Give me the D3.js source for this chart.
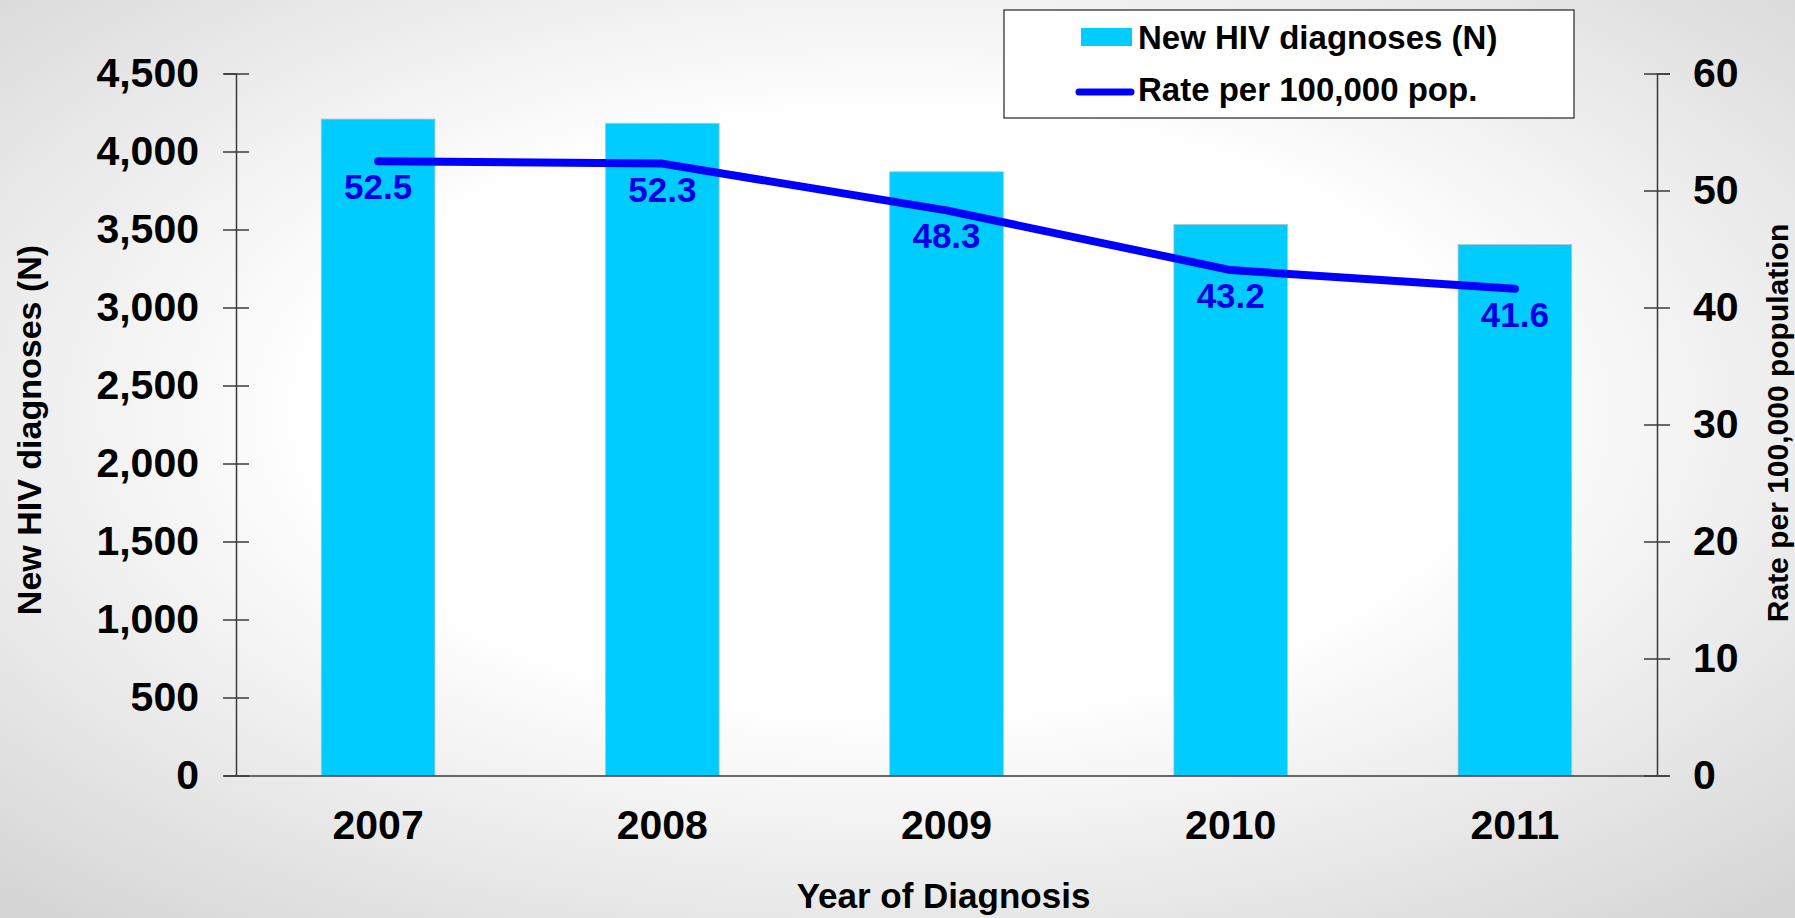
<!DOCTYPE html>
<html>
<head>
<meta charset="utf-8">
<script src="https://cdn.jsdelivr.net/npm/d3@7"></script>
<style>
  html, body { margin: 0; padding: 0; background: #ffffff; }
  svg { display: block; }
  text { font-family: "Liberation Sans", Arial, sans-serif; font-weight: bold; }
</style>
</head>
<body>
<script>
// ---- data ----
const years = ["2007", "2008", "2009", "2010", "2011"];
const diagnoses = [4208, 4181, 3870, 3533, 3404];
const rates = [52.5, 52.3, 48.3, 43.2, 41.6];
const leftTicks = [0, 500, 1000, 1500, 2000, 2500, 3000, 3500, 4000, 4500];
const rightTicks = [0, 10, 20, 30, 40, 50, 60];
const seriesNames = ["New HIV diagnoses (N)", "Rate per 100,000 pop."];
const xTitle = "Year of Diagnosis";
const yLeftTitle = "New HIV diagnoses (N)";
const yRightTitle = "Rate per 100,000 population";

const W = 1795, H = 918;
const plotLeft = 236, plotRight = 1657, plotTop = 73.5, plotBottom = 775.5;

const svg = d3.select("body").append("svg").attr("width", W).attr("height", H);

// background gradient
const defs = svg.append("defs");
const grad = defs.append("radialGradient").attr("id", "bg")
  .attr("cx", "50%").attr("cy", "45%").attr("r", "72%");
grad.append("stop").attr("offset", "0").attr("stop-color", "#ffffff");
grad.append("stop").attr("offset", "0.45").attr("stop-color", "#ffffff");
grad.append("stop").attr("offset", "1").attr("stop-color", "#d6d6d6");
svg.append("rect").attr("width", W).attr("height", H).attr("fill", "url(#bg)");

const x = d3.scaleBand().domain(years).range([plotLeft, plotRight])
  .paddingInner(0.6).paddingOuter(0.3);
const yL = d3.scaleLinear().domain([0, 4500]).range([plotBottom, plotTop]);
const yR = d3.scaleLinear().domain([0, 60]).range([plotBottom, plotTop]);

// bars
svg.append("g").selectAll("rect").data(years).join("rect")
  .attr("x", d => x(d))
  .attr("y", (d, i) => yL(diagnoses[i]))
  .attr("width", x.bandwidth())
  .attr("height", (d, i) => yL(0) - yL(diagnoses[i]))
  .attr("fill", "#00CCFF")
  .attr("stroke", "#b8c4c8").attr("stroke-width", 0.8);

// left axis
const axL = svg.append("g").attr("transform", `translate(${plotLeft},0)`)
  .call(d3.axisLeft(yL).tickValues(leftTicks).tickFormat(d3.format(",")).tickSize(12).tickPadding(25));
axL.selectAll(".tick line").attr("x1", 13).attr("x2", -13);
// right axis
const axR = svg.append("g").attr("transform", `translate(${plotRight},0)`)
  .call(d3.axisRight(yR).tickValues(rightTicks).tickSize(13).tickPadding(23));
axR.selectAll(".tick line").attr("x1", -13).attr("x2", 13);
// bottom axis
const axB = svg.append("g").attr("transform", `translate(0,${plotBottom})`)
  .call(d3.axisBottom(x).tickSize(0).tickPadding(34));

[axL, axR, axB].forEach(a => {
  a.select(".domain").attr("stroke", "#3a3a3a").attr("stroke-width", 1.5);
  a.selectAll(".tick line").attr("stroke", "#3a3a3a").attr("stroke-width", 1.5);
  a.selectAll(".tick text").attr("font-size", 41).attr("fill", "#000")
    .attr("font-family", "Liberation Sans, Arial, sans-serif").attr("font-weight", "bold");
});
axB.selectAll(".tick text").attr("dy", "0.71em");

// line
const line = d3.line().x((d, i) => x(years[i]) + x.bandwidth() / 2).y(d => yR(d));
svg.append("path").datum(rates).attr("d", line)
  .attr("fill", "none").attr("stroke", "#0000FF").attr("stroke-width", 8)
  .attr("stroke-linecap", "round").attr("stroke-linejoin", "round");

// data labels
svg.append("g").selectAll("text").data(rates).join("text")
  .attr("x", (d, i) => x(years[i]) + x.bandwidth() / 2)
  .attr("y", d => yR(d) + 38)
  .attr("text-anchor", "middle")
  .attr("font-size", 35).attr("fill", "#0000E6")
  .text(d => d.toFixed(1));

// axis titles
svg.append("text").attr("x", (plotLeft + plotRight) / 2 - 3).attr("y", 908)
  .attr("text-anchor", "middle").attr("font-size", 35).attr("fill", "#000").text(xTitle);
svg.append("text").attr("transform", "translate(41,430) rotate(-90)")
  .attr("text-anchor", "middle").attr("font-size", 34).attr("fill", "#000").text(yLeftTitle);
svg.append("text").attr("transform", "translate(1788,423) rotate(-90)")
  .attr("text-anchor", "middle").attr("font-size", 30).attr("fill", "#000").text(yRightTitle);

// legend
const lg = svg.append("g");
lg.append("rect").attr("x", 1004).attr("y", 10).attr("width", 570).attr("height", 108)
  .attr("fill", "#ffffff").attr("stroke", "#333").attr("stroke-width", 1.3);
lg.append("rect").attr("x", 1081).attr("y", 28).attr("width", 51).attr("height", 18).attr("fill", "#00CCFF");
lg.append("line").attr("x1", 1079).attr("x2", 1131).attr("y1", 92).attr("y2", 92)
  .attr("stroke", "#0000FF").attr("stroke-width", 7).attr("stroke-linecap", "round");
lg.selectAll("text.lt").data(seriesNames).join("text").attr("class", "lt")
  .attr("x", 1138).attr("y", (d, i) => i === 0 ? 49 : 101)
  .attr("font-size", 33).attr("fill", "#000").text(d => d);
</script>
</body>
</html>
